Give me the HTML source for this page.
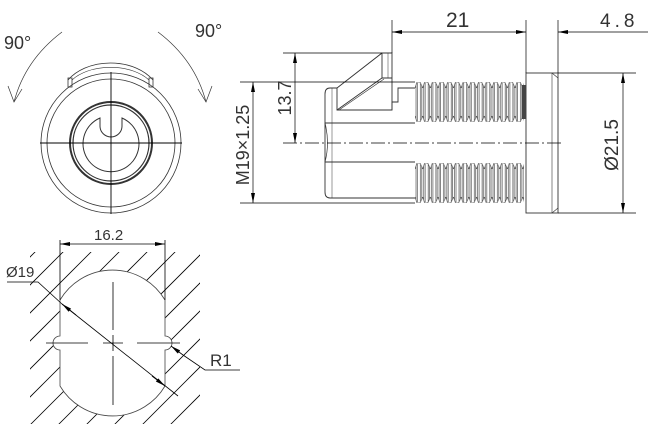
<!DOCTYPE html>
<html><head><meta charset="utf-8"><style>
html,body{margin:0;padding:0;background:#fff;}
svg{display:block;}
text{font-family:"Liberation Sans","DejaVu Sans",sans-serif;fill:#333;}
</style></head><body>
<svg width="648" height="427" viewBox="0 0 648 427" xmlns="http://www.w3.org/2000/svg">
<defs>
<marker id="ar" viewBox="0 0 10 4" refX="10" refY="2" markerWidth="12" markerHeight="4" markerUnits="userSpaceOnUse" orient="auto-start-reverse"><path d="M0,0L10,2L0,4z" fill="#000"/></marker>
<pattern id="thr" x="415" y="82" width="7.7" height="40" patternUnits="userSpaceOnUse">
<rect width="7.7" height="40" fill="#fff"/>
<path d="M0,6 L2,0 L5,0 L7.7,6 M0,34 L2,40 L5,40 L7.7,34 M1,3 L1,37 M2.5,1 L2.5,39 M5.5,1 L5.5,39 M6.8,4 L6.8,36" stroke="#555" stroke-width="0.7" fill="none"/>
</pattern>
<pattern id="thr2" x="415" y="163" width="7.7" height="40" patternUnits="userSpaceOnUse">
<rect width="7.7" height="40" fill="#fff"/>
<path d="M0,6 L2,0 L5,0 L7.7,6 M0,34 L2,40 L5,40 L7.7,34 M1,3 L1,37 M2.5,1 L2.5,39 M5.5,1 L5.5,39 M6.8,4 L6.8,36" stroke="#555" stroke-width="0.7" fill="none"/>
</pattern>
<clipPath id="hclip"><rect x="30" y="252" width="170" height="172"/></clipPath>
<mask id="hmask"><rect x="0" y="240" width="648" height="187" fill="#fff"/>
<path d="M60,300 A61,61 0 0 1 165,300 L165,336 A7,7 0 0 1 165,350 L165,386 A61,61 0 0 1 60,386 L60,350 A7,7 0 0 1 60,336 Z" fill="#000"/></mask>
</defs>

<g fill="none" stroke="#333" stroke-width="0.8">
<path d="M68,80 A50,36 0 0 1 153,80"/>
<path d="M72,80 A46,28 0 0 1 149,80" stroke-width="0.6"/>
<rect x="68" y="78" width="4" height="9"/><rect x="149" y="78" width="4" height="9"/>
<circle cx="111" cy="143" r="70"/>
<circle cx="111" cy="143" r="64"/>
<circle cx="111" cy="143" r="41" stroke-width="2"/>
<circle cx="111" cy="143" r="38" stroke-width="1.2"/>
<path d="M100,118 A28,28 0 1 0 122,118 L122,126 A11,11 0 0 1 100,126 Z" stroke-width="1"/>
<path d="M62,32 Q25,60 14,102" stroke-width="0.7"/>
<path d="M8,86 L14,102 L22,89" stroke-width="0.7"/>
<path d="M158,32 Q195,60 206,102" stroke-width="0.7"/>
<path d="M198,89 L206,102 L212,86" stroke-width="0.7"/>
</g>
<g stroke="#000" stroke-width="0.9">
<line x1="40" y1="143" x2="182" y2="143"/>
<line x1="111" y1="72" x2="111" y2="214"/>
</g>
<text x="4" y="49" font-size="18">90°</text>
<text x="195" y="37" font-size="18">90°</text>

<g fill="none" stroke="#333" stroke-width="0.9">
<rect x="526" y="73" width="32" height="140"/>
<line x1="552" y1="73" x2="552" y2="213" stroke-width="0.6"/>
<line x1="552" y1="73" x2="558" y2="78" stroke-width="0.6"/>
<line x1="552" y1="213" x2="558" y2="208" stroke-width="0.6"/>
<path d="M415,88 L398,88 L398,102 L392,102 L392,110 L337,110 L337,88 L330,88 Q325,88 325,94 L325,192 Q325,198 330,198 L415,198"/>
<line x1="325" y1="123" x2="415" y2="123"/>
<line x1="325" y1="162" x2="415" y2="162"/>
<path d="M325,123 Q330,143 325,162" stroke-width="0.7"/>
<line x1="332" y1="88" x2="332" y2="198" stroke-width="0.5"/>
<path d="M337,88 L382,53 L392,53 L392,110"/>
<path d="M337,110 L382,78 L392,78"/>
<path d="M339,110 L384,79" stroke-width="0.6"/>
<line x1="382" y1="53" x2="382" y2="78"/>
<line x1="388" y1="53" x2="388" y2="78" stroke-width="0.5"/>
</g>
<rect x="415" y="82" width="109" height="40" fill="url(#thr)"/>
<rect x="415" y="163" width="109" height="40" fill="url(#thr2)"/>
<rect x="522" y="85" width="4" height="34" fill="#444"/>
<line x1="283" y1="143" x2="562" y2="143" stroke="#000" stroke-width="0.8" stroke-dasharray="14,3,2,3"/>
<g stroke="#000" stroke-width="0.7" fill="none">
<line x1="392" y1="20" x2="392" y2="53"/>
<line x1="526" y1="20" x2="526" y2="73"/>
<line x1="558" y1="20" x2="558" y2="73"/>
<line x1="392" y1="32" x2="526" y2="32" marker-start="url(#ar)" marker-end="url(#ar)"/>
<line x1="648" y1="32" x2="558" y2="32" marker-end="url(#ar)"/>
<line x1="283" y1="53" x2="382" y2="53"/>
<line x1="295" y1="53" x2="295" y2="143" marker-start="url(#ar)" marker-end="url(#ar)"/>
<line x1="240" y1="82" x2="415" y2="82"/>
<line x1="240" y1="203" x2="415" y2="203"/>
<line x1="253" y1="82" x2="253" y2="203" marker-start="url(#ar)" marker-end="url(#ar)"/>
<line x1="558" y1="73" x2="636" y2="73"/>
<line x1="558" y1="213" x2="636" y2="213"/>
<line x1="623" y1="73" x2="623" y2="213" marker-start="url(#ar)" marker-end="url(#ar)"/>
</g>
<text x="446" y="27" font-size="21">21</text>
<text x="600" y="27" font-size="19" letter-spacing="4">4.8</text>
<text transform="translate(291,98) rotate(-90)" font-size="18" text-anchor="middle">13.7</text>
<text transform="translate(249,145) rotate(-90)" font-size="18" text-anchor="middle">M19×1.25</text>
<text transform="translate(618,145) rotate(-90)" font-size="19" text-anchor="middle">Ø21.5</text>

<g clip-path="url(#hclip)" mask="url(#hmask)" stroke="#000" stroke-width="0.8">
<line x1="-140" y1="427" x2="60" y2="227"/>
<line x1="-112" y1="427" x2="88" y2="227"/>
<line x1="-84" y1="427" x2="116" y2="227"/>
<line x1="-56" y1="427" x2="144" y2="227"/>
<line x1="-28" y1="427" x2="172" y2="227"/>
<line x1="0" y1="427" x2="200" y2="227"/>
<line x1="28" y1="427" x2="228" y2="227"/>
<line x1="56" y1="427" x2="256" y2="227"/>
<line x1="84" y1="427" x2="284" y2="227"/>
<line x1="112" y1="427" x2="312" y2="227"/>
<line x1="140" y1="427" x2="340" y2="227"/>
<line x1="168" y1="427" x2="368" y2="227"/>
</g>
<path d="M60,300 A61,61 0 0 1 165,300 L165,336 A7,7 0 0 1 165,350 L165,386 A61,61 0 0 1 60,386 L60,350 A7,7 0 0 1 60,336 Z" fill="none" stroke="#444" stroke-width="0.8"/>
<g stroke="#000" stroke-width="0.8" fill="none">
<line x1="60" y1="240" x2="60" y2="300"/>
<line x1="165" y1="240" x2="165" y2="300"/>
<line x1="60" y1="244" x2="165" y2="244" marker-start="url(#ar)" marker-end="url(#ar)"/>
<line x1="46" y1="343" x2="88" y2="343"/>
<line x1="103" y1="343" x2="123" y2="343"/>
<line x1="137" y1="343" x2="180" y2="343"/>
<line x1="113" y1="282" x2="113" y2="330"/>
<line x1="113" y1="335" x2="113" y2="351"/>
<line x1="113" y1="356" x2="113" y2="405"/>
<path d="M7,282 L38,282 L62,304"/>
<line x1="62" y1="304" x2="178" y2="396"/>
<line x1="76" y1="315" x2="62" y2="304" marker-end="url(#ar)"/>
<line x1="152" y1="376" x2="165" y2="386" marker-end="url(#ar)"/>
<path d="M240,370 L205,370 L183,355"/>
<line x1="183" y1="355" x2="171" y2="346" marker-end="url(#ar)"/>
</g>
<text x="94" y="240" font-size="15">16.2</text>
<text x="6" y="277" font-size="15">Ø19</text>
<text x="210" y="366" font-size="17">R1</text>
</svg>
</body></html>
